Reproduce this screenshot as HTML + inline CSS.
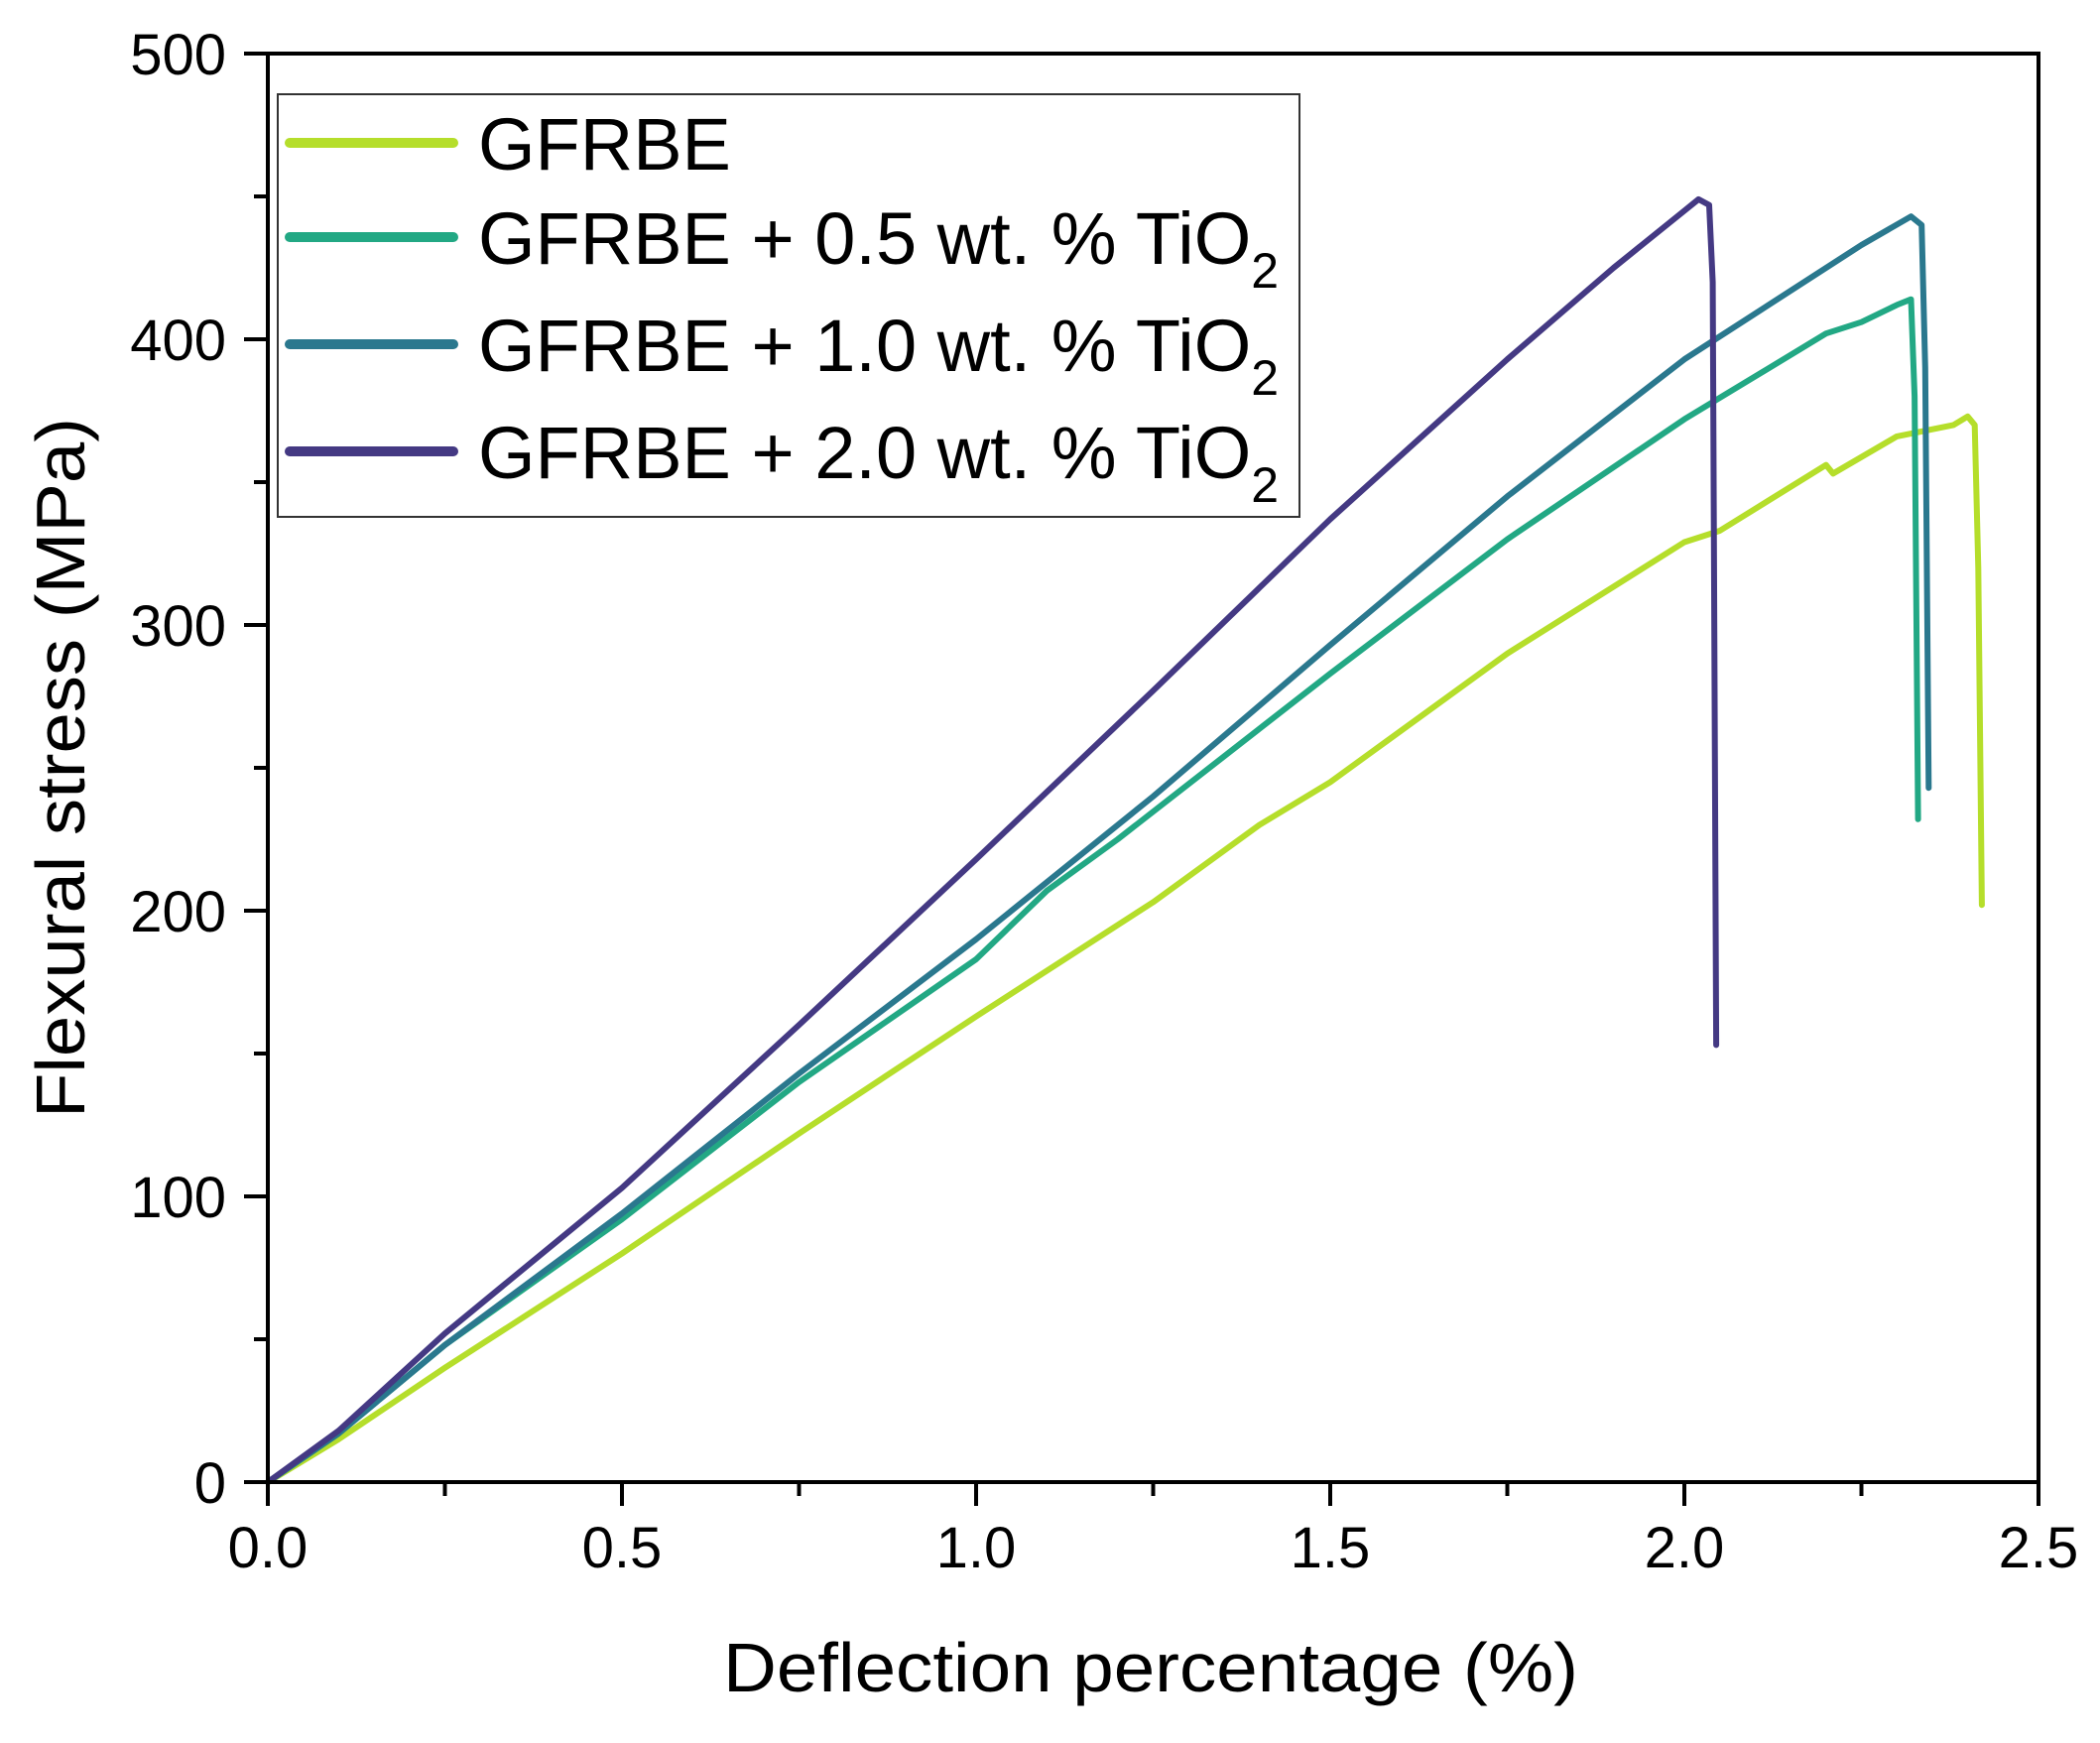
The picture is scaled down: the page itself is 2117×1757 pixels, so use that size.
<!DOCTYPE html>
<html><head><meta charset="utf-8"><style>html,body{margin:0;padding:0;background:#fff}svg{display:block}text{font-family:"Liberation Sans",Arial,sans-serif;fill:#000}</style></head>
<body>
<svg id="chart" width="2117" height="1757" viewBox="0 0 2117 1757" xmlns="http://www.w3.org/2000/svg">
<g id="plot"></g>
</svg>
<script>
const xTicks = [0, 0.5, 1.0, 1.5, 2.0, 2.5];
const xTickLabels = ["0.0", "0.5", "1.0", "1.5", "2.0", "2.5"];
const yTicks = [0, 100, 200, 300, 400, 500];
const yTickLabels = ["0", "100", "200", "300", "400", "500"];
const seriesNames = ["GFRBE", "GFRBE + 0.5 wt. % TiO", "GFRBE + 1.0 wt. % TiO", "GFRBE + 2.0 wt. % TiO"];
const seriesColors = ["#b5de2b", "#22a884", "#2a788e", "#443983"];
const gfrbeX = [0,0.1,0.25,0.5,0.75,1.0,1.25,1.4,1.5,1.75,2.0,2.05,2.2,2.21,2.3,2.38,2.40,2.41,2.415,2.42];
const gfrbeY = [0,15,40,80,122,163,203,230,245,290,329,333,356,353,366,370,373,370,320,202];
const tio05X = [0,0.1,0.25,0.5,0.75,1.0,1.1,1.2,1.5,1.75,2.0,2.2,2.25,2.3,2.32,2.325,2.33];
const tio05Y = [0,17,48,92,140,183,207,225,283,330,372,402,406,412,414,380,232];
const tio10X = [0,0.1,0.25,0.5,0.75,1.0,1.25,1.5,1.75,2.0,2.25,2.32,2.335,2.34,2.345];
const tio10Y = [0,17,48,94,143,190,240,293,345,393,433,443,440,390,243];
const tio20X = [0,0.1,0.25,0.5,0.75,1.0,1.25,1.5,1.75,1.9,2.0,2.02,2.035,2.04,2.045];
const tio20Y = [0,18,52,103,160,218,277,337,393,425,445,449,447,420,153];

const NS = "http://www.w3.org/2000/svg";
const X0 = 270, X1 = 2055, Y0 = 1494, Y1 = 54;
const sx = v => X0 + (v - 0) / 2.5 * (X1 - X0);
const sy = v => Y0 - (v - 0) / 500 * (Y0 - Y1);
const g = document.getElementById("plot");
function mk(tag, attrs, parent) {
  const e = document.createElementNS(NS, tag);
  for (const k in attrs) e.setAttribute(k, attrs[k]);
  (parent || g).appendChild(e);
  return e;
}
const allX = [gfrbeX, tio05X, tio10X, tio20X];
const allY = [gfrbeY, tio05Y, tio10Y, tio20Y];
const seriesKeys = ["gfrbe", "tio2-0-5", "tio2-1-0", "tio2-2-0"];
for (let s = 0; s < 4; s++) {
  const d = allX[s].map((x, i) => (i ? "L" : "M") + sx(x).toFixed(1) + "," + sy(allY[s][i]).toFixed(1)).join("");
  const p = mk("path", {d: d, fill: "none", stroke: seriesColors[s], "stroke-width": 6, "stroke-linejoin": "round", "stroke-linecap": "round"});
  
  
}
const frame = mk("rect", {x: X0, y: Y1, width: X1 - X0, height: Y0 - Y1, fill: "none", stroke: "#000", "stroke-width": 4});


for (let i = 0; i < xTicks.length; i++) {
  const x = sx(xTicks[i]);
  const t = mk("line", {x1: x, y1: Y0, x2: x, y2: Y0 + 24, stroke: "#000", "stroke-width": 4});
  
  
  const l = mk("text", {x: x, y: Y0 + 86, "font-size": 58, "text-anchor": "middle"});
  l.textContent = xTickLabels[i];
  
  
  if (i < xTicks.length - 1) {
    const m = sx(xTicks[i] + 0.25);
    const mt = mk("line", {x1: m, y1: Y0, x2: m, y2: Y0 + 14, stroke: "#000", "stroke-width": 4});
    
    
  }
}
for (let i = 0; i < yTicks.length; i++) {
  const y = sy(yTicks[i]);
  const t = mk("line", {x1: X0 - 24, y1: y, x2: X0, y2: y, stroke: "#000", "stroke-width": 4});
  
  
  const l = mk("text", {x: X0 - 42, y: y + 21, "font-size": 58, "text-anchor": "end"});
  l.textContent = yTickLabels[i];
  
  
  if (i < yTicks.length - 1) {
    const m = sy(yTicks[i] + 50);
    const mt = mk("line", {x1: X0 - 14, y1: m, x2: X0, y2: m, stroke: "#000", "stroke-width": 4});
    
    
  }
}
const xt = mk("text", {x: 1160, y: 1705, "font-size": 70, "text-anchor": "middle", textLength: 862, lengthAdjust: "spacingAndGlyphs"});
xt.textContent = "Deflection percentage (%)";


const yt = mk("text", {x: 0, y: 0, "font-size": 70, "text-anchor": "middle", transform: "translate(85,774) rotate(-90)", textLength: 706, lengthAdjust: "spacingAndGlyphs"});
yt.textContent = "Flexural stress (MPa)";


const lg = mk("g", {});


const box = mk("rect", {x: 280, y: 95, width: 1030, height: 426, fill: "#fff", stroke: "#333", "stroke-width": 2}, lg);


const rowsY = [144, 239, 347, 455];
for (let s = 0; s < 4; s++) {
  const ent = mk("g", {}, lg);
  
  
  mk("line", {x1: 292, y1: rowsY[s], x2: 457, y2: rowsY[s], stroke: seriesColors[s], "stroke-width": 10, "stroke-linecap": "round"}, ent);
  const tx = mk("text", {x: 482, y: rowsY[s] + 27, "font-size": 74}, ent);
  tx.textContent = seriesNames[s];
  if (s > 0) {
    const sub = document.createElementNS(NS, "tspan");
    sub.setAttribute("font-size", 50);
    sub.setAttribute("dy", 24);
    sub.textContent = "2";
    tx.appendChild(sub);
  }
}
</script>
</body></html>
